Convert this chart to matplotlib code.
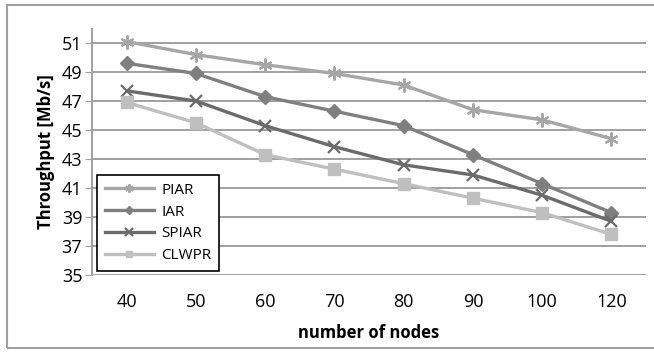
import matplotlib.pyplot as plt
from matplotlib.patches import Rectangle

# dados
nodes = ['40', '50', '60', '70', '80', '90', '100', '120']
piar = [51.1, 50.2, 49.5, 48.9, 48.1, 46.4, 45.7, 44.4]
iar = [49.6, 48.9, 47.3, 46.3, 45.3, 43.3, 41.3, 39.3]
spiar = [47.7, 47.0, 45.3, 43.85, 42.6, 41.9, 40.5, 38.7]
clwpr = [46.9, 45.5, 43.3, 42.3, 41.3, 40.3, 39.3, 37.8]
yticks = [35, 37, 39, 41, 43, 45, 47, 49, 51]

plt.rcParams['font.family'] = ['Open Sans', 'DejaVu Sans']

fig = plt.figure(figsize=(6.54, 3.53), dpi=100)
ax = fig.add_axes([92 / 654, 1 - 275 / 353, 554 / 654, 246.5 / 353])

x = range(len(nodes))
ax.plot(x, piar, color='#a6a6a6', lw=2.4, marker=(6, 2, 0), ms=10, mew=1.5, label='PIAR')
ax.plot(x, iar, color='#7f7f7f', lw=2.4, marker='D', ms=7, label='IAR')
ax.plot(x, spiar, color='#6b6b6b', lw=2.4, marker='x', ms=9, mew=1.6, label='SPIAR')
ax.plot(x, clwpr, color='#bfbfbf', lw=2.4, marker='s', ms=8, label='CLWPR')

ax.set_xlim(-0.5, 7.5)
ax.set_ylim(35, 52)
ax.set_xticks(list(x))
ax.set_xticklabels(nodes)
ax.set_yticks(yticks)
ax.tick_params(axis='x', length=0, labelsize=13, pad=13)
ax.tick_params(axis='y', length=5, color='#a0a0a0', labelsize=13, pad=2)
ax.yaxis.grid(True, color='#a0a0a0', lw=1.4)
ax.set_axisbelow(True)
for s in ['top', 'right', 'bottom']:
    ax.spines[s].set_visible(False)
ax.spines['left'].set_color('#a0a0a0')
ax.spines['left'].set_linewidth(1.4)

ax.set_xlabel('number of nodes', fontsize=12, fontweight='bold', labelpad=9)
ax.set_ylabel('Throughput [Mb/s]', fontsize=12, fontweight='bold', labelpad=5)

leg = ax.legend(loc='lower left', bbox_to_anchor=(5 / 554, 4 / 246.5), borderaxespad=0,
                fontsize=11, frameon=True, fancybox=False, edgecolor='black', framealpha=1,
                handlelength=3.2, markerscale=0.6, labelspacing=0.45, borderpad=0.5,
                handletextpad=0.5)
leg.get_frame().set_linewidth(1.2)

# moldura externa
fig.patches.append(Rectangle((7 / 654, 5 / 353), 660 / 654, 343 / 353,
                             transform=fig.transFigure, fill=False,
                             edgecolor='#a0a0a0', lw=1.5))

fig.savefig('out.png', dpi=100)
